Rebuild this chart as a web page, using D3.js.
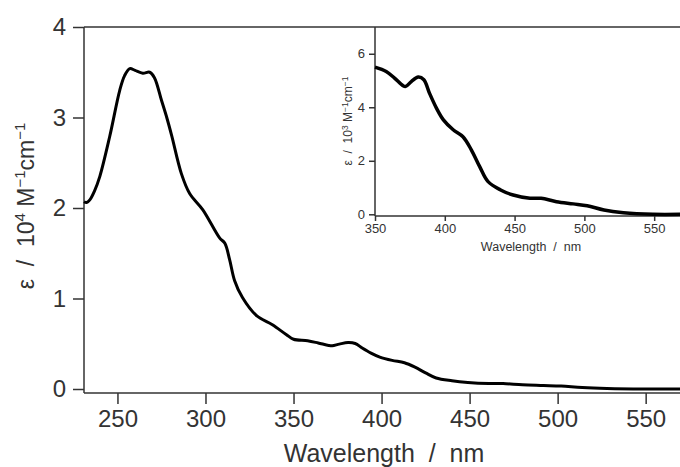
<!DOCTYPE html>
<html lang="en">
<head>
  <meta charset="UTF-8">
  <title>Absorption spectrum</title>
  <style>
    body { margin: 0; background: #fff; }
    text { font-family: "Liberation Sans", Arial, sans-serif; fill: #333; }
  </style>
</head>
<body>
  <div id="main"></div>
  <script src="https://cdn.jsdelivr.net/npm/d3@7"></script>
  <script>
    // data: wavelength (nm) and epsilon (10^3 M-1 cm-1)
    const wavelengths = [231, 232.5, 234.3, 237, 240, 245.6, 251.3, 254, 257, 260, 264.4, 268.3, 271, 275, 278, 280.8,
      286.3, 291, 298.5, 308, 311, 313.7, 316.5, 321, 329, 338, 346, 350, 358, 364, 370, 372, 376, 381, 385,
      389, 394, 399, 406, 413, 419, 425, 431, 440, 449, 461, 469, 480, 492, 502, 514, 528, 549, 570]
    const epsilon = [20.7, 20.6, 20.9, 21.9, 23.5, 27.9, 33.0, 34.6, 35.4, 35.2, 34.9, 35.0, 34.4, 31.9, 30.0, 28.0,
      23.8, 21.6, 19.8, 16.7, 16.1, 14.3, 12.0, 10.1, 8.1, 7.1, 6.0, 5.5, 5.34, 5.09, 4.81, 4.78, 4.96, 5.13, 5.03,
      4.53, 3.97, 3.53, 3.16, 2.90, 2.41, 1.78, 1.22, 0.91, 0.72, 0.60, 0.60, 0.47, 0.39, 0.32, 0.16, 0.06, 0.0, 0.0]
    const mainXTicks = [250, 300, 350, 400, 450, 500, 550]
    const mainYTicks = [0, 1, 2, 3, 4]
    const insetXTicks = [350, 400, 450, 500, 550]
    const insetYTicks = [0, 2, 4, 6]

    const points = wavelengths.map((w, i) => ({ w: w, e: epsilon[i] }))
    const axisColor = "#333"

    const svg = d3.select('#main').append('svg')
      .attr('width', 680)
      .attr('height', 467)

    // main chart scales
    const x = d3.scaleLinear().domain([231, 569.5]).range([84, 680])
    const y = d3.scaleLinear().domain([0, 4]).range([389, 27])

    // inset scales
    const xi = d3.scaleLinear().domain([350, 568.5]).range([375, 680])
    const yi = d3.scaleLinear().domain([0, 7]).range([214.3, 27])

    function styleAxis(g, size) {
      g.select('.domain').remove()
      g.selectAll('line').attr('stroke', axisColor).attr('stroke-width', 1.5)
      g.selectAll('text').attr('font-size', size).attr('fill', axisColor)
        .attr('font-family', '"Liberation Sans", Arial, sans-serif')
    }

    function drawMain() {
      // frame lines
      svg.append('line').attr('x1', 84).attr('x2', 680).attr('y1', 27).attr('y2', 27)
        .attr('stroke', axisColor).attr('stroke-width', 1.5)
      svg.append('line').attr('x1', 84).attr('x2', 84).attr('y1', 27).attr('y2', 393)
        .attr('stroke', axisColor).attr('stroke-width', 1.5)
      svg.append('line').attr('x1', 84).attr('x2', 680).attr('y1', 393).attr('y2', 393)
        .attr('stroke', axisColor).attr('stroke-width', 1.5)

      svg.append('g')
        .attr('transform', 'translate(0,393)')
        .call(d3.axisBottom(x).tickValues(mainXTicks).tickFormat(d3.format('d')).tickSize(11).tickPadding(6))
        .call(g => styleAxis(g, 24))

      svg.append('g')
        .attr('transform', 'translate(84,0)')
        .call(d3.axisLeft(y).tickValues(mainYTicks).tickFormat(d3.format('d')).tickSize(11).tickPadding(7))
        .call(g => styleAxis(g, 24))

      svg.append('text')
        .attr('x', 384).attr('y', 462)
        .attr('text-anchor', 'middle')
        .attr('font-size', 25)
        .style('white-space', 'pre')
        .text('Wavelength  /  nm')

      const yt = svg.append('text')
        .attr('transform', 'translate(34,206) rotate(-90)')
        .attr('text-anchor', 'middle')
        .attr('font-size', 23)
        .style('white-space', 'pre')
      yt.append('tspan').text('ε  /  10')
      yt.append('tspan').attr('dy', -9).attr('font-size', 15).text('4')
      yt.append('tspan').attr('dy', 9).text(' M')
      yt.append('tspan').attr('dy', -9).attr('font-size', 15).text('−1')
      yt.append('tspan').attr('dy', 9).text('cm')
      yt.append('tspan').attr('dy', -9).attr('font-size', 15).text('−1')

      svg.append('path')
        .datum(points)
        .attr('fill', 'none')
        .attr('stroke', '#000')
        .attr('stroke-width', 3)
        .attr('stroke-linejoin', 'round')
        .attr('d', d3.line().x(d => x(d.w)).y(d => y(d.e / 10)).curve(d3.curveCatmullRom.alpha(0.5)))
    }

    function drawInset() {
      svg.append('line').attr('x1', 375).attr('x2', 375).attr('y1', 27).attr('y2', 216)
        .attr('stroke', axisColor).attr('stroke-width', 1.5)
      svg.append('line').attr('x1', 375).attr('x2', 680).attr('y1', 216).attr('y2', 216)
        .attr('stroke', axisColor).attr('stroke-width', 1.5)

      svg.append('g')
        .attr('transform', 'translate(0,216)')
        .call(d3.axisBottom(xi).tickValues(insetXTicks).tickFormat(d3.format('d')).tickSize(5).tickPadding(3))
        .call(g => styleAxis(g, 13))

      svg.append('g')
        .attr('transform', 'translate(375,0)')
        .call(d3.axisLeft(yi).tickValues(insetYTicks).tickFormat(d3.format('d')).tickSize(6).tickPadding(4))
        .call(g => styleAxis(g, 13))

      svg.append('text')
        .attr('x', 531).attr('y', 251)
        .attr('text-anchor', 'middle')
        .attr('font-size', 12.5)
        .style('white-space', 'pre')
        .text('Wavelength  /  nm')

      const yt = svg.append('text')
        .attr('transform', 'translate(352,121) rotate(-90)')
        .attr('text-anchor', 'middle')
        .attr('font-size', 12)
        .style('white-space', 'pre')
      yt.append('tspan').text('ε  /  10')
      yt.append('tspan').attr('dy', -4).attr('font-size', 8.5).text('3')
      yt.append('tspan').attr('dy', 4).text(' M')
      yt.append('tspan').attr('dy', -4).attr('font-size', 8.5).text('−1')
      yt.append('tspan').attr('dy', 4).text('cm')
      yt.append('tspan').attr('dy', -4).attr('font-size', 8.5).text('−1')

      svg.append('path')
        .datum(points.filter(d => d.w >= 350))
        .attr('fill', 'none')
        .attr('stroke', '#000')
        .attr('stroke-width', 3.5)
        .attr('stroke-linejoin', 'round')
        .attr('d', d3.line().x(d => xi(d.w)).y(d => yi(d.e)).curve(d3.curveCatmullRom.alpha(0.5)))
    }

    drawMain()
    drawInset()
  </script>
</body>
</html>
